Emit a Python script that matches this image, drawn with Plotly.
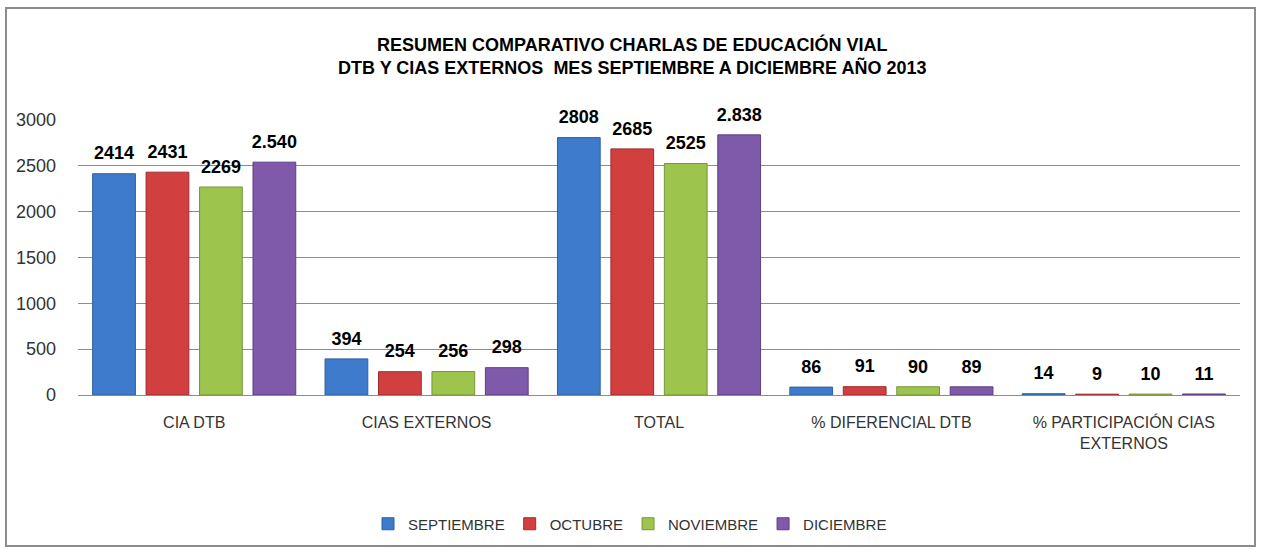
import plotly.graph_objects as go

categories = ["CIA DTB", "CIAS EXTERNOS", "TOTAL", "% DIFERENCIAL DTB", "% PARTICIPACIÓN CIAS<br>EXTERNOS"]
months = ["SEPTIEMBRE", "OCTUBRE", "NOVIEMBRE", "DICIEMBRE"]
septiembre = [2414, 394, 2808, 86, 14]
octubre = [2431, 254, 2685, 91, 9]
noviembre = [2269, 256, 2525, 90, 10]
diciembre = [2540, 298, 2838, 89, 11]
label_septiembre = ["2414", "394", "2808", "86", "14"]
label_octubre = ["2431", "254", "2685", "91", "9"]
label_noviembre = ["2269", "256", "2525", "90", "10"]
label_diciembre = ["2.540", "298", "2.838", "89", "11"]
y_ticks = [0, 500, 1000, 1500, 2000, 2500, 3000]

series = [septiembre, octubre, noviembre, diciembre]
labels = [label_septiembre, label_octubre, label_noviembre, label_diciembre]
colors = ["#3f7bcc", "#d13f3f", "#9dc44c", "#7f5aaa"]
edge = ["#2f5f9e", "#9e2c2c", "#76963a", "#5c3f80"]

GAP = 0.08

fig = go.Figure()
for i, (name, vals, c, e) in enumerate(zip(months, series, colors, edge)):
    fig.add_trace(go.Bar(
        x=categories, y=vals, name=name, offsetgroup=str(i),
        marker=dict(color=c, line=dict(color=e, width=1)),
    ))
for i, (vals, txt) in enumerate(zip(series, labels)):
    fig.add_trace(go.Scatter(
        x=categories, y=vals, text=txt, mode="markers+text", offsetgroup=str(i),
        textposition="top center", showlegend=False, cliponaxis=False, hoverinfo="skip",
        marker=dict(size=14, opacity=0),
        textfont=dict(family="Liberation Sans", size=18, color="black", weight="bold"),
    ))

W, H = 1261, 552
L, R, T, B = 78, 21, 120, 157
pw, ph = W - L - R, H - T - B

def px(x):
    return (x - L) / pw

def py(y):
    return (H - B - y) / ph

fig.update_layout(
    width=W, height=H,
    margin=dict(l=L, r=R, t=T, b=B),
    paper_bgcolor="white", plot_bgcolor="white",
    font=dict(family="Liberation Sans", color="#222222"),
    barmode="group", bargap=GAP, bargroupgap=0.2,
    scattermode="group", scattergap=GAP,
    showlegend=True,
    legend=dict(orientation="h", x=px(630), xanchor="center", y=py(524), yanchor="middle",
                font=dict(size=15, color="#333333"), itemwidth=30, traceorder="normal"),
    xaxis=dict(showgrid=False, showline=True, linecolor="#8c8c8c", linewidth=1,
               ticks="", tickfont=dict(size=16, color="#333333"), ticklabelstandoff=13),
    yaxis=dict(range=[0, 3000], tickvals=y_ticks, showgrid=True, gridcolor="#8c8c8c",
               gridwidth=1, zeroline=False, showline=False, ticks="",
               tickfont=dict(size=18, color="#333333"), ticklabelstandoff=21),
    shapes=[dict(type="rect", xref="paper", yref="paper",
                 x0=px(6), x1=px(1255), y0=py(546), y1=py(8),
                 line=dict(color="#8c8c8c", width=2), fillcolor="rgba(0,0,0,0)", layer="below")],
    annotations=[dict(text="<b>RESUMEN COMPARATIVO CHARLAS DE EDUCACIÓN VIAL<br>DTB Y CIAS EXTERNOS  MES SEPTIEMBRE A DICIEMBRE AÑO 2013</b>",
                      xref="paper", yref="paper", x=px(632), y=py(56), xanchor="center", yanchor="middle",
                      showarrow=False, font=dict(size=18, color="black"), align="center")],
)

fig.write_html("out.html", config={"displayModeBar": False},
               post_script="document.body.style.margin='0';document.body.style.overflow='hidden';")
